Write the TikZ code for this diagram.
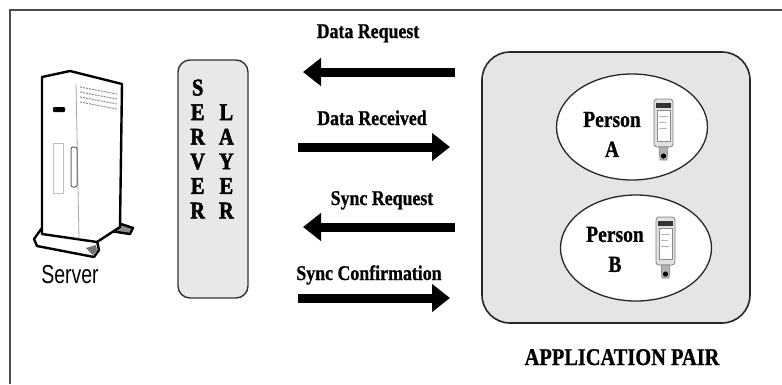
\documentclass[tikz,border=0pt]{standalone}
\usepackage{fontspec}
\setmainfont{Liberation Serif}
\newfontfamily\lblfont{Liberation Serif}[FakeStretch=0.85, BoldFeatures={FakeBold=0.8}]
\newfontfamily\heavyfont{Liberation Serif}[FakeStretch=0.85, BoldFeatures={FakeBold=2}]
\newfontfamily\srvfont{Liberation Sans}[FakeStretch=0.75]
\usetikzlibrary{arrows.meta,shapes.geometric}

\begin{document}
\begin{tikzpicture}[
    x=1pt, y=-1pt,
    frameline/.style={draw=black!70, line width=1.6pt},
    layerbox/.style={draw=black!80, line width=1.4pt, fill=black!9, rounded corners=12pt, minimum width=70pt, minimum height=238pt},
    appbox/.style={draw=black!85, line width=1.6pt, fill=black!10, rounded corners=28pt, minimum width=268pt, minimum height=271pt},
    person/.style={draw=black!85, line width=1.3pt, fill=white, ellipse, minimum width=151pt, minimum height=106pt},
    lbl/.style={font=\lblfont\bfseries\fontsize{21}{24}\selectfont, inner sep=0pt, anchor=base},
    flowarrow/.style={line width=9pt, -{Triangle[length=18pt, width=27pt]}},
    srvline/.style={line width=2.4pt, line join=round}
]
\useasboundingbox (0,0) rectangle (782,384);

% frame
\draw[frameline] (10,384) -- (10,10) -- (782,10);

% server tower
\draw[srvline, fill=white] (42,228) -- (34,239) -- (37,246) -- (94,257) -- (99,250) -- (97,241);
\fill[black!55] (86,248) -- (93,255) -- (97,250) -- (96,245) -- cycle;
\draw[srvline, fill=black!45] (110,231) -- (130,234) -- (133,228) -- (121,224);
\draw[srvline, fill=white] (42,77) -- (70,71) -- (122,84) -- (120,227) -- (97,242) -- (42,234) -- cycle;
\draw[black!35, line width=0.8pt] (76,84) -- (79,239);
\foreach \v in {0,5,10,15}
  \draw[black!45, line width=1pt, dash pattern=on 2pt off 1pt] (80,87+\v) -- (117,94+\v);
\fill[black, rounded corners=1pt] (53,107) rectangle (65,112);
\draw[black!60, line width=1pt, rounded corners=2pt] (71,147) rectangle (77,187);
\draw[black!25, line width=0.8pt] (53,143) rectangle (63,193);
\node[font=\srvfont\fontsize{26}{28}\selectfont, anchor=base, inner sep=0pt] (server-lbl) at (70,283) {Server};

% server layer
\node[layerbox] (layer) at (213,179) {};
\node[font=\heavyfont\bfseries\fontsize{24}{24.6}\selectfont, inner sep=0pt, anchor=north] (layer-txt) at (212,78)
  {\begin{tabular}{@{}c@{\hspace{14pt}}c@{}} S & \\ E & L\\ R & A\\ V & Y\\ E & E\\ R & R \end{tabular}};

% application pair
\node[appbox] (app) at (616,187.5) {};
\node[person] (pa) at (632,127) {};
\node[person] (pb) at (636,248) {};
\node[font=\lblfont\bfseries\fontsize{23}{30}\selectfont, align=center, inner sep=0pt] (pa-txt) at (612,134.4) {Person\\A};
\node[font=\lblfont\bfseries\fontsize{23}{30}\selectfont, align=center, inner sep=0pt] (pb-txt) at (615,249.4) {Person\\B};
\node[lbl, font=\lblfont\bfseries\fontsize{24}{26}\selectfont] (app-lbl) at (622,365) {APPLICATION PAIR};

% phones
\foreach \dx/\dy in {0/0,2/118} {
  \begin{scope}[shift={(\dx,\dy)}]
    \draw[black!50, fill=black!12, rounded corners=3pt, line width=0.8pt] (654,99) rectangle (673,147);
    \fill[black!80] (656,103) rectangle (671,108);
    \draw[black!45, fill=white, line width=0.6pt] (657,110) rectangle (670,141);
    \draw[black!30, line width=1pt] (659,116) -- (668,116) (659,122) -- (666,122) (659,128) -- (667,128);
    \draw[black!50, fill=black!30, line width=0.6pt] (659,147) -- (668,147) -- (667,160) -- (660,160) -- cycle;
    \fill[black] (663.5,156) circle (2.6pt);
  \end{scope}
}

% messages
\coordinate (req-from) at (455,72);
\coordinate (req-to) at (303,72);
\coordinate (rcv-from) at (298,147);
\coordinate (rcv-to) at (450,147);
\coordinate (sreq-from) at (455,227);
\coordinate (sreq-to) at (303,227);
\coordinate (sconf-from) at (298,298);
\coordinate (sconf-to) at (450,298);

\node[lbl] (req-lbl) at (368,38) {Data Request};
\node[lbl] (rcv-lbl) at (372,125) {Data Received};
\node[lbl] (sreq-lbl) at (382,205) {Sync Request};
\node[lbl] (sconf-lbl) at (369,280) {Sync Confirmation};

\draw[flowarrow] (req-from) -- (req-to);
\draw[flowarrow] (rcv-from) -- (rcv-to);
\draw[flowarrow] (sreq-from) -- (sreq-to);
\draw[flowarrow] (sconf-from) -- (sconf-to);

\end{tikzpicture}
\end{document}
